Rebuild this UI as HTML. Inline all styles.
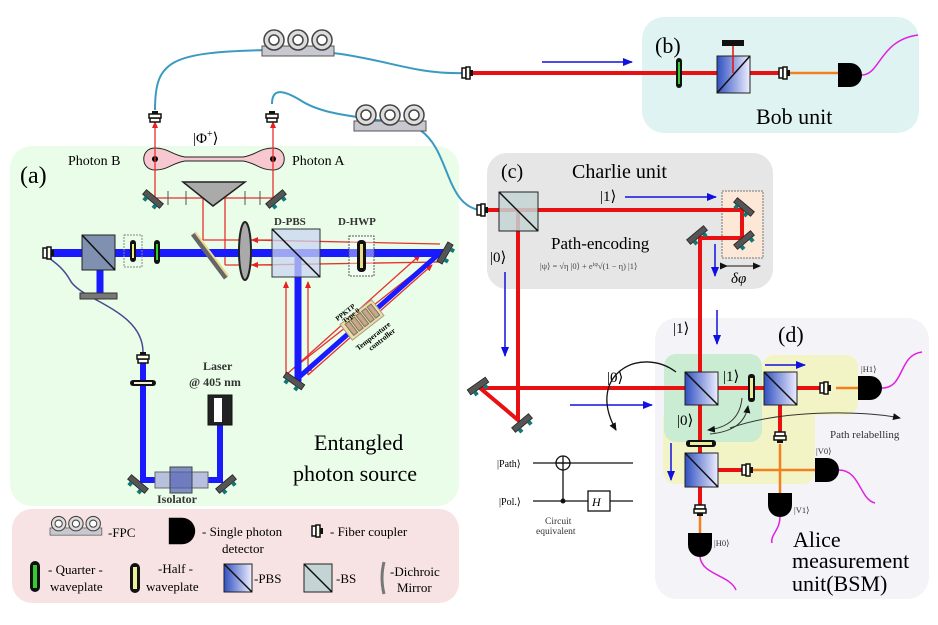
<!DOCTYPE html>
<html><head><meta charset="utf-8"><style>html,body{margin:0;padding:0;background:#fff}svg{display:block}text{font-family:"Liberation Serif",serif}</style></head><body>
<svg width="938" height="625" viewBox="0 0 938 625" xmlns="http://www.w3.org/2000/svg">
<defs>
<marker id="ab" markerWidth="10" markerHeight="8" refX="9" refY="4" orient="auto" markerUnits="userSpaceOnUse"><path d="M0,0 L10,4 L0,8 Z" fill="#1010e0"/></marker>
<marker id="ar" markerWidth="7" markerHeight="6" refX="6" refY="3" orient="auto" markerUnits="userSpaceOnUse"><path d="M0,0 L7,3 L0,6 Z" fill="#e82020"/></marker>
<marker id="ak" markerWidth="8" markerHeight="7" refX="7" refY="3.5" orient="auto" markerUnits="userSpaceOnUse"><path d="M0,0 L8,3.5 L0,7 Z" fill="#111"/></marker>
<linearGradient id="pbs" x1="0" y1="0" x2="1" y2="0"><stop offset="0" stop-color="#3050c0"/><stop offset="1" stop-color="#eef"/></linearGradient>
<g id="mir"><rect x="-11" y="-3" width="22" height="6" fill="#555" stroke="#222" stroke-width="0.8"/><rect x="-8" y="3" width="4" height="4" fill="#177"/><rect x="4" y="3" width="4" height="4" fill="#177"/></g>
<g id="fc"><rect x="-5" y="-5" width="4" height="10" fill="#fff" stroke="#111" stroke-width="1.5"/><rect x="-1" y="-6" width="4" height="12" fill="#ffe" stroke="#111" stroke-width="1.5"/><rect x="3" y="-3" width="3" height="6" fill="#111"/></g>
<g id="det"><path d="M-12,-12 L0,-12 A12,12 0 0 1 0,12 L-12,12 Z" fill="#000"/></g>
<g id="fpc"><rect x="0" y="18" width="72" height="10" fill="#c8c8d0" stroke="#555"/><circle cx="12" cy="12" r="10" fill="#ddd" stroke="#444" stroke-width="1.5"/><circle cx="12" cy="12" r="5" fill="#fff" stroke="#444" stroke-width="1.5"/><circle cx="36" cy="12" r="10" fill="#ddd" stroke="#444" stroke-width="1.5"/><circle cx="36" cy="12" r="5" fill="#fff" stroke="#444" stroke-width="1.5"/><circle cx="60" cy="12" r="10" fill="#ddd" stroke="#444" stroke-width="1.5"/><circle cx="60" cy="12" r="5" fill="#fff" stroke="#444" stroke-width="1.5"/></g>
</defs>

<rect x="10" y="146" width="449" height="360" rx="22" fill="#e9fde9"/>
<rect x="12" y="509" width="447" height="94" rx="20" fill="#f7e3e3"/>
<rect x="642" y="17" width="277" height="116" rx="22" fill="#dff4f2"/>
<rect x="487" y="153" width="286" height="136" rx="20" fill="#e6e6e6"/>
<rect x="655" y="318" width="274" height="281" rx="22" fill="#f3f3f8"/>
<rect x="762" y="355" width="96" height="60" rx="12" fill="#f3f4c6"/>
<rect x="663" y="408" width="152" height="76" rx="12" fill="#f3f4c6"/>
<rect x="664" y="354" width="98" height="88" rx="12" fill="#c9ecd2"/>

<path d="M155,110 C155,60 170,52 270,50 C370,48 400,75 463,73" fill="none" stroke="#3a9ac0" stroke-width="2"/>
<path d="M272,104 C272,90 280,88 300,100 C330,120 380,115 420,130 C450,150 445,205 480,210" fill="none" stroke="#3a9ac0" stroke-width="2"/>
<use href="#fpc" x="262" y="28"/>
<use href="#fpc" x="354" y="103"/>
<path d="M143,352 C143,310 80,300 70,280 C60,262 45,258 45,253" fill="none" stroke="#4a4a90" stroke-width="1.5"/>

<line x1="470" y1="73" x2="782" y2="73" stroke="#e81010" stroke-width="4"/>
<use href="#fc" x="467" y="73"/>
<line x1="787" y1="73" x2="840" y2="73" stroke="#f08020" stroke-width="2.5"/>
<line x1="542" y1="62" x2="632" y2="62" stroke="#1010e0" stroke-width="1.5" marker-end="url(#ab)"/>
<rect x="676" y="58" width="6" height="30" rx="3" fill="#111"/><rect x="678" y="62" width="2" height="22" fill="#3c3"/>
<rect x="717" y="56" width="33" height="37" fill="url(#pbs)" stroke="#222"/><line x1="717" y1="93" x2="750" y2="56" stroke="#111" stroke-width="1.5"/>
<line x1="733" y1="46" x2="733" y2="73" stroke="#e81010" stroke-width="1.5"/>
<rect x="722" y="40" width="22" height="6" fill="#111"/>
<use href="#fc" x="784" y="73"/>
<use href="#det" x="850" y="75"/>
<path d="M862,75 C880,75 880,40 918,35" fill="none" stroke="#e020e0" stroke-width="1.5"/>
<text x="655" y="53" font-size="22">(b)</text>
<text x="756" y="124" font-size="22">Bob unit</text>

<text x="20" y="183" font-size="24">(a)</text>
<text x="68" y="165" font-size="14">Photon B</text>
<text x="292" y="165" font-size="14">Photon A</text>
<text x="193" y="143" font-size="15">|Φ<tspan font-size="10" dy="-6">+</tspan><tspan dy="6">⟩</tspan></text>
<path d="M155,148 C140,148 140,170 155,170 C168,170 172,163 185,161 L243,161 C256,163 260,170 273,170 C288,170 288,148 273,148 C260,148 256,155 243,157 L185,157 C172,155 168,148 155,148 Z" fill="#f8c8d0" stroke="#222"/>
<circle cx="155" cy="159" r="3" fill="#000"/><circle cx="273" cy="159" r="3" fill="#000"/>
<g stroke="#e83030" stroke-width="1.3" fill="none">
<line x1="155" y1="198" x2="155" y2="122" marker-end="url(#ar)"/>
<line x1="273" y1="198" x2="273" y2="122" marker-end="url(#ar)"/>
<line x1="155" y1="198" x2="273" y2="198"/>
<line x1="203" y1="240" x2="203" y2="190" marker-end="url(#ar)"/>
<line x1="225" y1="265" x2="225" y2="190" marker-end="url(#ar)"/>
<line x1="203" y1="240" x2="272" y2="240"/>
<line x1="225" y1="265" x2="272" y2="265"/>
<line x1="440" y1="244" x2="252" y2="240" marker-end="url(#ar)"/>
<line x1="440" y1="262" x2="252" y2="265" marker-end="url(#ar)"/>
<line x1="286" y1="375" x2="286" y2="282" marker-end="url(#ar)"/>
<line x1="308" y1="375" x2="308" y2="282" marker-end="url(#ar)"/>
<line x1="440" y1="253" x2="306" y2="372" marker-end="url(#ar)"/>
<line x1="440" y1="253" x2="294" y2="368" marker-end="url(#ar)"/>
<line x1="286" y1="375" x2="420" y2="255" marker-end="url(#ar)"/>
<line x1="308" y1="375" x2="432" y2="265" marker-end="url(#ar)"/>
</g>
<g stroke="#555" stroke-width="1"><line x1="168" y1="191" x2="168" y2="205"/><line x1="186" y1="191" x2="186" y2="205"/><line x1="245" y1="191" x2="245" y2="205"/><line x1="260" y1="191" x2="260" y2="205"/></g>
<path d="M183,182 L245,182 L213,206 Z" fill="#aaa" stroke="#222" stroke-width="1.5"/>
<use href="#mir" transform="translate(153,199) rotate(40)"/>
<use href="#mir" transform="translate(276,199) rotate(-40)"/>
<g stroke="#1a1aff" stroke-linecap="square" fill="none">
<line x1="50" y1="253" x2="440" y2="253" stroke-width="8"/>
<line x1="100" y1="253" x2="100" y2="293" stroke-width="7"/>
<line x1="298" y1="253" x2="298" y2="378" stroke-width="7"/>
<line x1="298" y1="378" x2="440" y2="253" stroke-width="5"/>
<line x1="220" y1="425" x2="220" y2="480" stroke-width="6"/>
<line x1="220" y1="480" x2="143" y2="480" stroke-width="6"/>
<line x1="143" y1="480" x2="143" y2="362" stroke-width="6"/>
</g>
<use href="#fc" x="48" y="253"/>
<rect x="82" y="235" width="33" height="35" fill="#8090b0" stroke="#222"/><line x1="82" y1="235" x2="115" y2="270" stroke="#111" stroke-width="1.5"/>
<rect x="80" y="293" width="37" height="6" fill="#777" stroke="#333"/>
<rect x="124" y="235" width="18" height="32" fill="none" stroke="#888" stroke-dasharray="2,1"/>
<rect x="130" y="240" width="6" height="22" rx="3" fill="#111"/><rect x="132" y="244" width="2" height="14" fill="#ee8"/>
<rect x="154" y="240" width="6" height="24" rx="3" fill="#111"/><rect x="156" y="244" width="2" height="16" fill="#3c3"/>
<line x1="193" y1="234" x2="226" y2="278" stroke="#666" stroke-width="5"/><line x1="195" y1="232" x2="228" y2="276" stroke="#ecd890" stroke-width="2"/>
<ellipse cx="245" cy="251" rx="6" ry="29" fill="#aaa" stroke="#222" stroke-width="2"/>
<rect x="272" y="229" width="48" height="48" fill="#c8d4f0" fill-opacity="0.75" stroke="#333"/><line x1="272" y1="229" x2="320" y2="277" stroke="#111" stroke-width="1.5"/>
<text x="274" y="225" font-size="11" font-weight="bold" fill="#333">D-PBS</text>
<rect x="349" y="236" width="25" height="40" fill="#fff" fill-opacity="0.4" stroke="#555" stroke-dasharray="2,1"/>
<rect x="357" y="240" width="9" height="32" rx="4" fill="#111"/><rect x="360" y="244" width="3" height="24" fill="#ed8"/>
<text x="338" y="225" font-size="11" font-weight="bold" fill="#333">D-HWP</text>
<use href="#mir" transform="translate(445,253) rotate(-60)"/>
<use href="#mir" transform="translate(294,381) rotate(35)"/>
<g transform="translate(362,320) rotate(-38)"><rect x="-20" y="-10" width="40" height="20" fill="#ecdfa0" stroke="#a99"/><g fill="#c9a58a" stroke="#776"><rect x="-16" y="-7" width="5" height="14"/><rect x="-9" y="-7" width="5" height="14"/><rect x="-2" y="-7" width="5" height="14"/><rect x="5" y="-7" width="5" height="14"/><rect x="12" y="-7" width="5" height="14"/></g>
<text x="-20" y="-14" font-size="7" font-weight="bold">PPKTP</text><text x="-16" y="-8" font-size="7" font-weight="bold">Type 0</text>
<text x="-22" y="22" font-size="7.5" font-weight="bold">Temperature</text><text x="-12" y="30" font-size="7.5" font-weight="bold">controller</text></g>
<rect x="208" y="395" width="24" height="30" fill="#222" stroke="#111"/><rect x="214" y="398" width="8" height="24" fill="#fff"/>
<text x="203" y="370" font-size="12" font-weight="bold" fill="#333">Laser</text>
<text x="189" y="386" font-size="12" font-weight="bold" fill="#333">@ 405 nm</text>
<rect x="155" y="472" width="53" height="16" fill="#b8c0e0" stroke="#666"/><rect x="170" y="467" width="22" height="26" fill="#5060b0" stroke="#444" fill-opacity="0.7"/>
<text x="157" y="503" font-size="12" font-weight="bold" fill="#333">Isolator</text>
<use href="#mir" transform="translate(138,484) rotate(40)"/>
<use href="#mir" transform="translate(226,484) rotate(-40)"/>
<rect x="130" y="380" width="26" height="6" rx="3" fill="#111"/><rect x="134" y="382" width="18" height="2" fill="#eed"/>
<g transform="translate(143,358) rotate(-90)"><use href="#fc"/></g>
<g transform="translate(155,117) rotate(-90)"><use href="#fc"/></g>
<g transform="translate(272,117) rotate(-90)"><use href="#fc"/></g>
<text x="314" y="450" font-size="22">Entangled</text>
<text x="293" y="481" font-size="22">photon source</text>

<use href="#fpc" transform="translate(50,515) scale(0.72)"/>
<text x="108" y="537" font-size="13">-FPC</text>
<use href="#det" transform="translate(182,531) scale(1.1)"/>
<text x="202" y="536" font-size="13">- Single photon</text><text x="222" y="553" font-size="13">detector</text>
<use href="#fc" x="317" y="531"/>
<text x="330" y="536" font-size="13">- Fiber coupler</text>
<rect x="30" y="561" width="10" height="31" rx="5" fill="#111"/><rect x="33" y="565" width="4" height="23" fill="#3c3"/>
<text x="48" y="574" font-size="13">- Quarter -</text><text x="50" y="591" font-size="13">waveplate</text>
<rect x="130" y="563" width="10" height="30" rx="5" fill="#111"/><rect x="133" y="567" width="4" height="22" fill="#ee9"/>
<text x="158" y="573" font-size="13">-Half -</text><text x="146" y="591" font-size="13">waveplate</text>
<rect x="224" y="564" width="28" height="28" fill="url(#pbs)" stroke="#222"/><line x1="224" y1="564" x2="252" y2="592" stroke="#111" stroke-width="1.5"/>
<text x="254" y="583" font-size="13">-PBS</text>
<rect x="304" y="564" width="28" height="28" fill="#c4d4d4" stroke="#222"/><line x1="304" y1="564" x2="332" y2="592" stroke="#111" stroke-width="1.5"/>
<text x="336" y="583" font-size="13">-BS</text>
<path d="M384,562 Q380,578 384,594" fill="none" stroke="#777" stroke-width="3"/>
<text x="390" y="576" font-size="13">-Dichroic</text><text x="397" y="592" font-size="13">Mirror</text>

<text x="501" y="178" font-size="20">(c)</text>
<text x="572" y="178" font-size="20">Charlie unit</text>
<rect x="722" y="191" width="41" height="67" fill="#fde7d6" stroke="#777" stroke-dasharray="2,1"/>
<g stroke="#e81010" stroke-width="4" fill="none">
<path d="M485,210 L742,210 L742,238 L700,238 L700,388"/>
<path d="M518,210 L518,420 L480,388 L700,388"/>
<path d="M700,388 L830,388"/>
<path d="M780,388 L780,432"/>
<path d="M700,388 L700,505"/>
<path d="M700,470 L745,470"/>
</g>
<g stroke="#f08020" stroke-width="2.5"><line x1="780" y1="444" x2="780" y2="495"/><line x1="752" y1="470" x2="818" y2="470"/><line x1="836" y1="388" x2="858" y2="388"/><line x1="700" y1="515" x2="700" y2="535"/></g>
<use href="#fc" x="482" y="210"/>
<rect x="499" y="192" width="39" height="39" fill="#c4d4d4" fill-opacity="0.85" stroke="#222"/><line x1="499" y1="192" x2="538" y2="231" stroke="#111" stroke-width="1.5"/>
<use href="#mir" transform="translate(744,207) rotate(40)"/>
<use href="#mir" transform="translate(744,240) rotate(-40)"/>
<use href="#mir" transform="translate(697,235) rotate(-40)"/>
<use href="#mir" transform="translate(478,386) rotate(-35)"/>
<use href="#mir" transform="translate(522,423) rotate(-40)"/>
<line x1="727" y1="266" x2="760" y2="266" stroke="#111" stroke-width="1" marker-end="url(#ak)" marker-start="url(#ak)"/>
<text x="731" y="283" font-size="15" font-style="italic">δφ</text>
<text x="600" y="201" font-size="15">|1⟩</text>
<line x1="625" y1="197" x2="716" y2="197" stroke="#1010e0" stroke-width="1.5" marker-end="url(#ab)"/>
<text x="551" y="249" font-size="17">Path-encoding</text>
<text x="540" y="269" font-size="8.5" fill="#444">|ψ⟩ = √η |0⟩ + e<tspan font-size="6" dy="-3">iφ</tspan><tspan dy="3">√(1 − η) |1⟩</tspan></text>
<text x="490" y="262" font-size="15">|0⟩</text>
<line x1="505" y1="272" x2="505" y2="356" stroke="#1010e0" stroke-width="1.5" marker-end="url(#ab)"/>
<line x1="715" y1="244" x2="715" y2="276" stroke="#1010e0" stroke-width="1.5" marker-end="url(#ab)"/>
<line x1="717" y1="310" x2="717" y2="344" stroke="#1010e0" stroke-width="1.5" marker-end="url(#ab)"/>
<text x="673" y="333" font-size="15">|1⟩</text>
<text x="607" y="382" font-size="15">|0⟩</text>
<line x1="570" y1="405" x2="652" y2="405" stroke="#1010e0" stroke-width="1.5" marker-end="url(#ab)"/>

<text x="778" y="342" font-size="22">(d)</text>
<rect x="685" y="372" width="33" height="33" fill="url(#pbs)" stroke="#222"/><line x1="685" y1="372" x2="718" y2="405" stroke="#111" stroke-width="1.5"/>
<rect x="764" y="372" width="33" height="33" fill="url(#pbs)" stroke="#222"/><line x1="764" y1="372" x2="797" y2="405" stroke="#111" stroke-width="1.5"/>
<rect x="685" y="453" width="33" height="34" fill="url(#pbs)" stroke="#222"/><line x1="685" y1="453" x2="718" y2="487" stroke="#111" stroke-width="1.5"/>
<rect x="748" y="374" width="7" height="28" rx="3" fill="#111"/><rect x="750" y="378" width="3" height="20" fill="#ee9"/>
<rect x="686" y="440" width="30" height="7" rx="3" fill="#111"/><rect x="690" y="442" width="22" height="3" fill="#ee9"/>
<use href="#fc" x="825" y="388"/>
<g transform="translate(780,437) rotate(90)"><use href="#fc"/></g>
<use href="#fc" x="747" y="470"/>
<g transform="translate(700,510) rotate(90)"><use href="#fc"/></g>
<use href="#det" x="870" y="388"/>
<use href="#det" x="827" y="470"/>
<g transform="translate(780,505) rotate(90)"><use href="#det"/></g>
<g transform="translate(700,545) rotate(90)"><use href="#det"/></g>
<g fill="none" stroke="#e020e0" stroke-width="1.5">
<path d="M882,388 C905,388 898,355 922,352"/>
<path d="M839,470 C860,470 860,500 875,503"/>
<path d="M780,517 C780,530 770,535 772,543"/>
<path d="M700,557 C702,575 730,575 736,590"/>
</g>
<text x="861" y="372" font-size="8.5" fill="#333">|H1⟩</text>
<text x="816" y="454" font-size="8.5" fill="#333">|V0⟩</text>
<text x="794" y="513" font-size="8.5" fill="#333">|V1⟩</text>
<text x="714" y="546" font-size="8.5" fill="#333">|H0⟩</text>
<text x="723" y="381" font-size="15">|1⟩</text>
<text x="677" y="425" font-size="15">|0⟩</text>
<line x1="765" y1="365" x2="805" y2="365" stroke="#1010e0" stroke-width="1.5" marker-end="url(#ab)"/>
<line x1="671" y1="443" x2="671" y2="480" stroke="#1010e0" stroke-width="1.5" marker-end="url(#ab)"/>
<g fill="none" stroke="#333" stroke-width="1">
<path d="M742,398 C740,420 725,428 708,430" marker-end="url(#ak)"/>
<path d="M710,434 C730,432 745,425 748,406" marker-end="url(#ak)"/>
<path d="M730,428 C780,410 860,410 900,418" marker-end="url(#ak)"/>
</g>
<path d="M676,372 C640,345 585,375 616,430" fill="none" stroke="#111" stroke-width="1.3" marker-end="url(#ak)"/>
<text x="830" y="438" font-size="11" fill="#333">Path relabelling</text>
<text x="793" y="547" font-size="22">Alice</text>
<text x="792" y="568" font-size="22">measurement</text>
<text x="792" y="591" font-size="22">unit(BSM)</text>

<g stroke="#111" stroke-width="1.3" fill="none">
<line x1="533" y1="463" x2="633" y2="463"/><line x1="533" y1="501" x2="588" y2="501"/><line x1="610" y1="501" x2="633" y2="501"/>
<circle cx="563" cy="463" r="7"/><line x1="563" y1="456" x2="563" y2="501"/><line x1="556" y1="463" x2="570" y2="463"/>
<rect x="588" y="491" width="22" height="20"/>
</g>
<circle cx="563" cy="501" r="2.5" fill="#111"/>
<text x="592" y="506" font-size="12" font-style="italic">H</text>
<text x="497" y="467" font-size="10">|Path⟩</text>
<text x="499" y="505" font-size="10">|Pol.⟩</text>
<text x="545" y="524" font-size="9.5" fill="#333">Circuit</text>
<text x="536" y="534" font-size="9.5" fill="#333">equivalent</text>
</svg>
</body></html>
